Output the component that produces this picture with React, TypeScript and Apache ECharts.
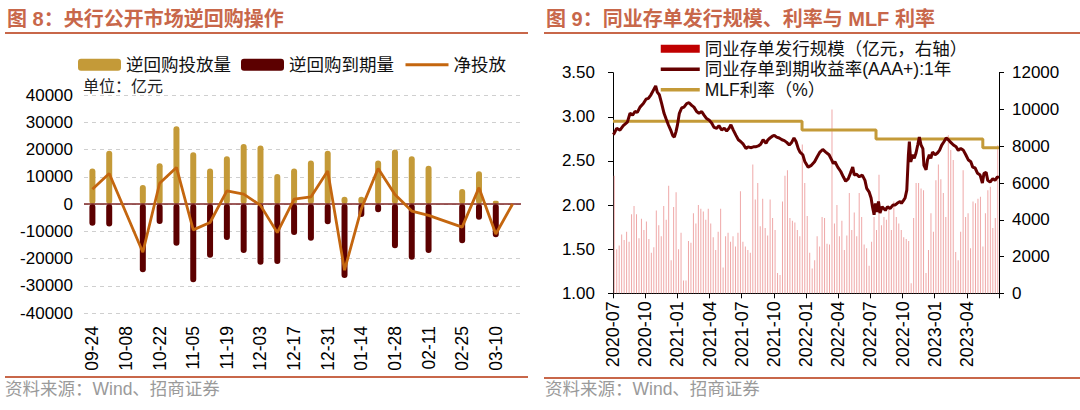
import React, { useEffect, useRef } from 'react';
import * as echarts from 'echarts';

// ---------- Figure 8 data ----------
const weekLabels = ['09-24','10-01','10-08','10-15','10-22','10-29','11-05','11-12','11-19','11-26','12-03','12-10','12-17','12-24','12-31','01-07','01-14','01-21','01-28','02-04','02-11','02-18','02-25','03-03','03-10','03-17'];
const injection = [13000, 19500, null, 7000, 15000, 28500, 19000, 13000, 17500, 22000, 21500, 11000, 13000, 16000, 19500, 2700, 2700, 16000, 20000, 17500, 14000, null, 5500, 12000, 1200, null];
const maturity = [-8000, -8300, null, -25000, -7300, -15300, -28700, -19700, -13200, -18000, -22300, -22000, -11400, -13500, -7400, -27200, -4800, -3000, -16200, -20500, -18000, null, -14400, -5800, -12200, null];
const netInjection = [5400, 11200, null, -17700, 7600, 13400, -9500, -6800, 4800, 3600, -500, -10500, 1800, 2600, 12100, -24300, -1800, 13000, 3500, -2600, -4200, null, -8500, 6000, -11000, 0];
const leftTicks = [-40000, 40000, 10000];

// ---------- Figure 9 data ----------
const quarterLabels = ['2020-07','2020-10','2021-01','2021-04','2021-07','2021-10','2022-01','2022-04','2022-07','2022-10','2023-01','2023-04'];
const ncdIssuance = [
  6400, 2400, 2600, 3200, 2900, 3350, 2800, 4300, 4750, 4300,
  3000, 4050, 3450, 3900, 2950, 2200, 2500, 4500, 3700, 3100,
  4750, 4000, 5850, 1800, 4700, 5500, 2400, 3300, 700, 700,
  2850, 2750, 4350, 3800, 4800, 4600, 4450, 4000, 4600, 3800,
  3050, 2350, 3350, 4600, 1400, 3100, 3300, 2800, 3100, 2550,
  3300, 5550, 2800, 2550, 2350, 2200, 7000, 5100, 6000, 3650,
  5150, 3550, 3150, 5100, 4100, 3450, 1100, 1000, 5000, 6400,
  6700, 4100, 3950, 3850, 3450, 3100, 8100, 6000, 4200, 2200,
  1350, 1800, 3100, 2550,
  4150, 4100, 2700, 2650, 10000, 3800, 4800, 3100, 3950, 2350,
  3150, 5450, 3450, 4400, 3100, 5450, 4150, 2650, 2450, 1500,
  2800, 4150, 3450, 6450, 3700, 4150, 4000, 4600, 3450, 5000,
  4150, 3800, 3450, 3050, 2950, 2850, 550, 4100, 6000, 6000,
  5700, 5600, 1100, 2350, 4350, 3350, 6150, 7000, 6200, 5450,
  4150, 8600, 7800, 7250, 2250, 1800, 3350, 6700, 4150, 4350,
  2450, 5000, 4900, 5150, 5250, 2550, 4350, 5600, 5800, 3550,
  4100, 8050
];
const ncdYield = [
  [0.0, 2.80],[0.1, 2.81],[0.34, 2.87],[0.65, 2.85],[0.96, 2.90],[1.34, 2.94],[1.59, 3.04],[1.83, 3.02],[2.05, 3.06],[2.27, 3.05],
  [2.52, 3.11],[2.83, 3.15],[3.08, 3.20],[3.3, 3.21],[3.54, 3.25],[3.76, 3.30],[3.98, 3.35],[4.13, 3.28],[4.32, 3.25],[4.54, 3.15],
  [4.76, 3.04],[4.94, 2.98],[5.16, 2.91],[5.38, 2.85],[5.56, 2.79],[5.72, 2.77],[5.87, 2.83],[6.0, 2.90],[6.19, 3.04],[6.4, 3.10],
  [6.62, 3.11],[6.87, 3.15],[7.09, 3.16],[7.34, 3.13],[7.55, 3.11],[7.8, 3.06],[8.02, 3.04],[8.27, 3.06],[8.49, 3.02],[8.73, 2.98],
  [8.98, 2.96],[9.2, 2.93],[9.42, 2.88],[9.67, 2.87],[9.88, 2.90],[10.13, 2.85],[10.38, 2.87],[10.6, 2.84],[10.82, 2.87],[11.0, 2.91],
  [11.22, 2.85],[11.47, 2.79],[11.69, 2.74],[11.9, 2.72],[12.15, 2.69],[12.4, 2.64],[12.6, 2.66],[12.84, 2.65],[13.1, 2.66],[13.3, 2.66],
  [13.55, 2.67],[13.77, 2.69],[14.0, 2.74],[14.27, 2.70],[14.45, 2.74],[14.64, 2.76],[14.86, 2.78],[15.05, 2.79],[15.26, 2.77],[15.5, 2.76],
  [15.76, 2.74],[15.98, 2.73],[16.2, 2.71],[16.44, 2.68],[16.66, 2.71],[16.88, 2.76],[17.07, 2.72],[17.28, 2.64],[17.44, 2.60],[17.7, 2.57],
  [17.9, 2.49],[18.2, 2.43],[18.5, 2.45],[18.8, 2.49],[19.06, 2.55],[19.3, 2.60],[19.56, 2.63],[19.84, 2.60],[20.15, 2.57],[20.4, 2.51],
  [20.55, 2.47],[20.7, 2.49],[20.96, 2.43],[21.24, 2.38],[21.48, 2.32],[21.7, 2.27],[21.95, 2.30],[22.17, 2.37],[22.36, 2.43],[22.5, 2.34],
  [22.7, 2.35],[22.97, 2.32],[23.25, 2.34],[23.5, 2.28],[23.66, 2.19],[23.88, 2.15],[24.07, 2.08],[24.2, 1.98],[24.35, 1.89],[24.47, 2.02],
  [24.6, 1.92],[24.76, 2.04],[24.9, 1.91],[25.1, 1.98],[25.4, 1.94],[25.6, 1.98],[25.84, 1.96],[26.1, 2.00],[26.3, 2.00],[26.5, 2.02],
  [26.77, 2.04],[26.9, 2.02],[27.08, 2.05],[27.24, 2.08],[27.4, 2.17],[27.55, 2.57],[27.64, 2.72],[27.77, 2.49],[27.95, 2.57],[28.1, 2.53],
  [28.26, 2.59],[28.42, 2.68],[28.57, 2.77],[28.73, 2.68],[28.9, 2.64],[29.0, 2.45],[29.2, 2.40],[29.33, 2.51],[29.5, 2.57],[29.64, 2.53],
  [29.8, 2.60],[30.04, 2.57],[30.26, 2.59],[30.45, 2.62],[30.66, 2.68],[30.88, 2.72],[31.07, 2.76],[31.28, 2.74],[31.5, 2.71],[31.75, 2.68],
  [32.0, 2.66],[32.2, 2.62],[32.43, 2.64],[32.68, 2.62],[32.9, 2.57],[33.15, 2.51],[33.37, 2.49],[33.55, 2.43],[33.77, 2.42],[34.0, 2.36],
  [34.24, 2.34],[34.45, 2.25],[34.6, 2.36],[34.8, 2.37],[34.95, 2.28],[35.17, 2.26],[35.42, 2.30],[35.63, 2.28],[35.85, 2.32],[36.0, 2.31]
];
const mlfRate = [[0, 2.95], [17.63, 2.85], [24.53, 2.75], [34.49, 2.65], [36, 2.65]];
const ncdWeeks = ncdIssuance.map((_, i) => 'W' + (i + 1));

const FONT = '"Liberation Sans", "Noto Sans CJK SC", sans-serif';
const TITLE_COLOR = '#C8674A';

export default function App() {
  const ref = useRef<HTMLDivElement>(null);
  useEffect(() => {
    if (!ref.current) return;
    const chart = echarts.init(ref.current, undefined, { renderer: 'svg' });
    const option: any = {
      animation: false,
      textStyle: { fontFamily: FONT },
      graphic: [
        { type: 'text', x: 7, y: 19, style: { text: '图 8：央行公开市场逆回购操作', fill: TITLE_COLOR, font: `bold 20px ${FONT}`, verticalAlign: 'middle' } },
        { type: 'line', shape: { x1: 5, y1: 33, x2: 528, y2: 33 }, style: { stroke: TITLE_COLOR, lineWidth: 2 } },
        { type: 'text', x: 546, y: 19, style: { text: '图 9：同业存单发行规模、利率与 MLF 利率', fill: TITLE_COLOR, font: `bold 20px ${FONT}`, verticalAlign: 'middle' } },
        { type: 'line', shape: { x1: 544, y1: 33, x2: 1080, y2: 33 }, style: { stroke: TITLE_COLOR, lineWidth: 2 } },
        { type: 'text', x: 83, y: 86, style: { text: '单位：亿元', fill: '#222', font: `16px ${FONT}`, verticalAlign: 'middle' } },
        { type: 'line', shape: { x1: 5, y1: 377, x2: 528, y2: 377 }, style: { stroke: TITLE_COLOR, lineWidth: 2 } },
        { type: 'line', shape: { x1: 544, y1: 378, x2: 1080, y2: 378 }, style: { stroke: TITLE_COLOR, lineWidth: 2 } },
        { type: 'text', x: 5, y: 389, style: { text: '资料来源：Wind、招商证券', fill: '#9A9A9A', font: `17.5px ${FONT}`, verticalAlign: 'middle' } },
        { type: 'text', x: 545, y: 389, style: { text: '资料来源：Wind、招商证券', fill: '#9A9A9A', font: `17.5px ${FONT}`, verticalAlign: 'middle' } }
      ],
      legend: [
        {
          left: 73, top: 51, itemWidth: 43, itemHeight: 12, itemGap: 10,
          textStyle: { fontSize: 17.5, color: '#111', fontFamily: FONT },
          data: [
            { name: '逆回购投放量', icon: 'roundRect' },
            { name: '逆回购到期量', icon: 'roundRect' },
            { name: '净投放', itemStyle: { opacity: 0 }, lineStyle: { width: 3 } }
          ]
        },
        {
          left: 654, top: 35, orient: 'vertical', itemWidth: 39, itemHeight: 8, itemGap: 3,
          textStyle: { fontSize: 17.5, color: '#111', fontFamily: FONT },
          data: [
            { name: '同业存单发行规模（亿元，右轴）', icon: 'rect', itemStyle: { color: '#C00000' } },
            { name: '同业存单到期收益率(AAA+):1年', itemStyle: { opacity: 0 }, lineStyle: { width: 3.5 } },
            { name: 'MLF利率（%）', itemStyle: { opacity: 0 }, lineStyle: { width: 3.5 } }
          ]
        }
      ],
      grid: [
        { left: 84, top: 95, width: 437, height: 218 },
        { left: 613, top: 72.7, width: 386, height: 220.6 }
      ],
      xAxis: [
        {
          type: 'category', gridIndex: 0, data: weekLabels, boundaryGap: true,
          axisLine: { show: false, onZero: false }, axisTick: { show: false },
          axisLabel: { interval: 1, rotate: 90, fontSize: 17.5, color: '#000', margin: 13, fontFamily: FONT }
        },
        {
          type: 'value', gridIndex: 1, min: 0, max: 36, interval: 3,
          axisLine: { show: true, onZero: false, lineStyle: { color: '#000', width: 1 } },
          axisTick: { show: true, inside: false, length: 5, lineStyle: { color: '#000' } },
          splitLine: { show: false },
          axisLabel: {
            rotate: 90, fontSize: 18, color: '#000', margin: 8, fontFamily: FONT,
            formatter: (v: number) => quarterLabels[Math.round(v / 3)] ?? ''
          }
        },
        {
          type: 'category', gridIndex: 1, data: ncdWeeks, boundaryGap: true, show: false
        }
      ],
      yAxis: [
        {
          type: 'value', gridIndex: 0, min: leftTicks[0], max: leftTicks[1], interval: leftTicks[2],
          axisLine: { show: false }, axisTick: { show: false },
          axisLabel: { fontSize: 17, color: '#000', margin: 11, fontFamily: FONT, formatter: (v: number) => String(v) },
          splitLine: { show: true, lineStyle: { color: '#CFCFCF', type: [4, 4], width: 1 } }
        },
        {
          type: 'value', gridIndex: 1, position: 'left', min: 1, max: 3.5, interval: 0.5,
          axisLine: { show: true, lineStyle: { color: '#000', width: 1 } },
          axisTick: { show: true, length: 5, lineStyle: { color: '#000' } },
          splitLine: { show: false },
          axisLabel: { fontSize: 17, color: '#000', margin: 18, fontFamily: FONT, formatter: (v: number) => v.toFixed(2) }
        },
        {
          type: 'value', gridIndex: 1, position: 'right', min: 0, max: 12000, interval: 2000,
          axisLine: { show: true, lineStyle: { color: '#000', width: 1 } },
          axisTick: { show: true, length: 5, lineStyle: { color: '#000' } },
          splitLine: { show: false },
          axisLabel: { fontSize: 17, color: '#000', margin: 13, fontFamily: FONT, formatter: (v: number) => String(v) }
        }
      ],
      series: [
        {
          name: '逆回购投放量', type: 'bar', xAxisIndex: 0, yAxisIndex: 0, data: injection,
          barWidth: 6, barGap: '-100%', itemStyle: { color: '#C49A38', borderRadius: 3 },
          markLine: {
            silent: true, symbol: ['none', 'none'], label: { show: false },
            lineStyle: { color: '#7E2424', width: 1.5, type: 'solid' },
            data: [{ yAxis: 0 }]
          }
        },
        {
          name: '逆回购到期量', type: 'bar', xAxisIndex: 0, yAxisIndex: 0, data: maturity,
          barWidth: 6, barGap: '-100%', itemStyle: { color: '#5C0000', borderRadius: 3 }
        },
        {
          name: '净投放', type: 'line', xAxisIndex: 0, yAxisIndex: 0, data: netInjection,
          connectNulls: true, symbol: 'none', showSymbol: false,
          lineStyle: { color: '#C4660F', width: 2.8 }, itemStyle: { color: '#C4660F' }, z: 5
        },
        {
          name: '同业存单发行规模（亿元，右轴）', type: 'bar', xAxisIndex: 2, yAxisIndex: 2, data: ncdIssuance,
          barWidth: 1, itemStyle: { color: '#EFA8A8' }
        },
        {
          name: 'MLF利率（%）', type: 'line', xAxisIndex: 1, yAxisIndex: 1, data: mlfRate,
          step: 'end', symbol: 'none', showSymbol: false,
          lineStyle: { color: '#C49A38', width: 3 }, itemStyle: { color: '#C49A38' }, z: 4
        },
        {
          name: '同业存单到期收益率(AAA+):1年', type: 'line', xAxisIndex: 1, yAxisIndex: 1, data: ncdYield,
          symbol: 'none', showSymbol: false,
          lineStyle: { color: '#650000', width: 3 }, itemStyle: { color: '#650000' }, z: 5
        }
      ]
    };
    chart.setOption(option);
    return () => chart.dispose();
  }, []);
  return (
    <div
      ref={ref}
      style={{ position: 'fixed', left: 0, top: 0, width: 1080, height: 410, background: '#fff' }}
    />
  );
}
